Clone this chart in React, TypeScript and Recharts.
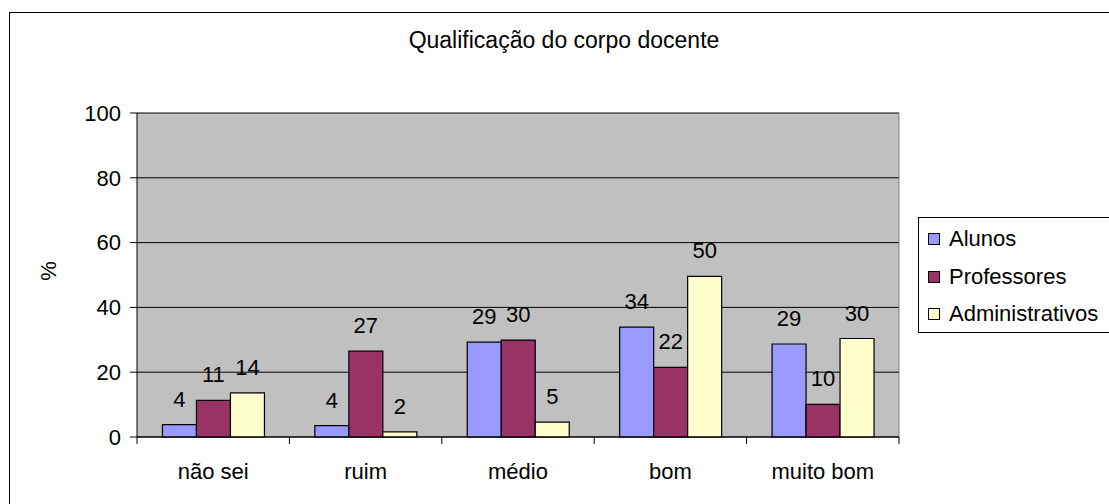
import { BarChart, Bar, XAxis, YAxis, CartesianGrid, LabelList } from "recharts";

const categories = ["não sei", "ruim", "médio", "bom", "muito bom"];
const alunos = [3.8, 3.5, 29.3, 33.9, 28.7];
const professores = [11.3, 26.5, 29.9, 21.5, 10.1];
const administrativos = [13.6, 1.6, 4.6, 49.6, 30.4];
const yTicks = [0, 20, 40, 60, 80, 100];

const series = [
  { key: "Alunos", values: alunos, color: "#9999FF" },
  { key: "Professores", values: professores, color: "#993366" },
  { key: "Administrativos", values: administrativos, color: "#FFFFCC" },
];

const data = categories.map((c, i) => ({
  name: c,
  Alunos: alunos[i],
  Professores: professores[i],
  Administrativos: administrativos[i],
}));

const W = 1109;
const H = 504;
const PLOT_LEFT = 137;
const PLOT_RIGHT = 899;
const PLOT_TOP = 113;
const PLOT_BOTTOM = 437;
const FONT = "'Liberation Sans', Arial, sans-serif";
const BAND = (PLOT_RIGHT - PLOT_LEFT) / categories.length;

function CategoryTick(props: any) {
  const { x, y, payload, index } = props;
  const axisY = PLOT_BOTTOM;
  return (
    <g>
      <line x1={x - BAND / 2} x2={x - BAND / 2} y1={axisY} y2={axisY + 7} stroke="#000" />
      {index === categories.length - 1 && (
        <line x1={x + BAND / 2} x2={x + BAND / 2} y1={axisY} y2={axisY + 7} stroke="#000" />
      )}
      <text x={x} y={y + 15.5} textAnchor="middle" fontSize={22} fill="#000" fontFamily={FONT}>
        {payload.value}
      </text>
    </g>
  );
}

function LegendBox() {
  return (
    <div
      style={{
        position: "absolute",
        left: 918,
        top: 217,
        border: "1px solid #000",
        background: "#fff",
        width: 200,
        height: 116,
        boxSizing: "border-box",
        fontFamily: FONT,
        fontSize: 22,
        color: "#000",
      }}
    >
      {series.map((s, i) => (
        <div
          key={s.key}
          style={{ position: "absolute", left: 9, top: 21 + i * 37.5 - 13, height: 26, display: "flex", alignItems: "center" }}
        >
          <span
            style={{
              width: 12,
              height: 12,
              background: s.color,
              border: "1px solid #000",
              boxSizing: "border-box",
              display: "inline-block",
              marginRight: 9,
            }}
          />
          <span style={{ lineHeight: "26px", whiteSpace: "nowrap" }}>{s.key}</span>
        </div>
      ))}
    </div>
  );
}

export default function App() {
  return (
    <div style={{ position: "absolute", left: 0, top: 0, width: W, height: H, overflow: "hidden", background: "#fff" }}>
      <div
        style={{
          position: "absolute",
          left: 9,
          top: 12,
          width: 1130,
          height: 530,
          border: "1px solid #000",
          boxSizing: "border-box",
        }}
      />
      <div style={{ position: "absolute", left: 0, top: 0 }}>
        <BarChart
          width={W}
          height={H}
          data={data}
          margin={{ top: PLOT_TOP, right: W - PLOT_RIGHT, bottom: 0, left: 0 }}
          barCategoryGap="16.7%"
          barGap={0}
        >
          <CartesianGrid vertical={false} stroke="#000" fill="#C0C0C0" fillOpacity={1} />
          <CartesianGrid horizontal={false} verticalPoints={[PLOT_RIGHT]} stroke="#808080" />
          <XAxis
            dataKey="name"
            height={H - PLOT_BOTTOM}
            axisLine={{ stroke: "#000" }}
            tickLine={false}
            tickSize={7}
            tickMargin={19}
            interval={0}
            tick={<CategoryTick />}
          />
          <YAxis
            width={PLOT_LEFT}
            domain={[0, 100]}
            ticks={yTicks}
            interval={0}
            axisLine={{ stroke: "#000" }}
            tickLine={{ stroke: "#000" }}
            tickSize={7}
            tickMargin={9}
            tick={{ fill: "#000", fontSize: 22, fontFamily: FONT }}
          />
          {series.map((s) => (
            <Bar key={s.key} dataKey={s.key} fill={s.color} stroke="#000" strokeWidth={1.2} isAnimationActive={false}>
              <LabelList
                dataKey={s.key}
                position="top"
                offset={18}
                formatter={(v: any) => Math.round(Number(v))}
                style={{ fill: "#000", fontSize: 22, fontFamily: FONT }}
              />
            </Bar>
          ))}
        </BarChart>
      </div>
      <LegendBox />
      <svg width={W} height={H} style={{ position: "absolute", left: 0, top: 0, pointerEvents: "none" }}>
        <text x={564} y={48} textAnchor="middle" fontSize={23} fontFamily={FONT} fill="#000">
          Qualificação do corpo docente
        </text>
        <text
          x={48}
          y={271}
          textAnchor="middle"
          dominantBaseline="central"
          fontSize={22}
          fontFamily={FONT}
          fill="#000"
          transform="rotate(-90 48 271)"
        >
          %
        </text>
      </svg>
    </div>
  );
}
